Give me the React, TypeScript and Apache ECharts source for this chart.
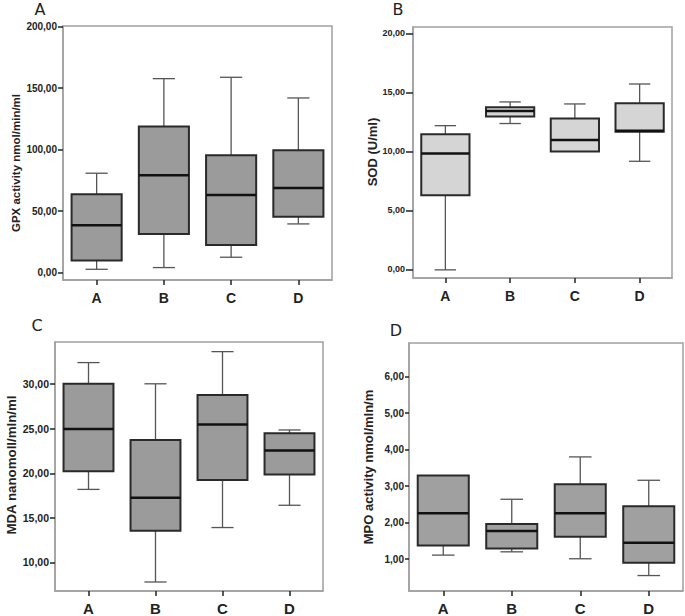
import React, { useEffect, useRef } from "react";
import * as echarts from "echarts";

const categories = ["A", "B", "C", "D"];

// [min, Q1, median, Q3, max] per group
const gpxData = [
  [2.7, 9.8, 38.5, 63.7, 80.8],
  [4.1, 31.4, 79.1, 118.7, 157.7],
  [12.5, 22.5, 63.1, 95.4, 158.8],
  [39.6, 45.5, 68.8, 99.5, 142],
];
const sodData = [
  [-0.05, 6.27, 9.8, 11.45, 12.17],
  [12.35, 12.95, 13.42, 13.73, 14.18],
  [9.97, 9.97, 10.96, 12.77, 14.01],
  [9.15, 11.65, 11.73, 14.07, 15.7],
];
const mdaData = [
  [18.19, 20.24, 24.97, 30.04, 32.42],
  [7.8, 13.54, 17.26, 23.74, 30.04],
  [13.91, 19.24, 25.46, 28.77, 33.65],
  [16.41, 19.87, 22.55, 24.49, 24.86],
];
const mpoData = [
  [1.11, 1.37, 2.26, 3.29, 3.29],
  [1.2, 1.29, 1.77, 1.96, 2.64],
  [1.01, 1.61, 2.26, 3.05, 3.8],
  [0.55, 0.9, 1.45, 2.45, 3.16],
];

const gpxTicks = [0, 50, 100, 150, 200];
const sodTicks = [0, 5, 10, 15, 20];
const mdaTicks = [10, 15, 20, 25, 30];
const mpoTicks = [1, 2, 3, 4, 5, 6];

const panelLetters = ["A", "B", "C", "D"];
const axisNames = [
  "GPX activity nmol/min/ml",
  "SOD (U/ml)",
  "MDA nanomoll/mln/ml",
  "MPO activity nmol/mln/m",
];

const FONT = "'Liberation Sans', Arial, sans-serif";

const fmt = (v: number) => v.toFixed(2).replace(".", ",");

const panels = [
  { grid: { left: 63, top: 26, width: 269, height: 254 }, min: -6, max: 200.5, ticks: gpxTicks, data: gpxData, fill: "#9b9b9b", tickLen: 5, labelSize: 10, xSize: 14, xMargin: 11, name: { x: 16, y: 163, size: 11.5 }, title: { x: 40, y: 9 } },
  { grid: { left: 413, top: 27, width: 259, height: 251 }, min: -0.74, max: 20.53, ticks: sodTicks, data: sodData, fill: "#d5d5d5", tickLen: 7, labelSize: 9, xSize: 14, xMargin: 11, name: { x: 372, y: 152, size: 13 }, title: { x: 398, y: 9 } },
  { grid: { left: 55, top: 342, width: 268, height: 250 }, min: 6.79, max: 34.73, ticks: mdaTicks, data: mdaData, fill: "#9b9b9b", tickLen: 5, labelSize: 10.5, xSize: 15, xMargin: 10, name: { x: 11, y: 465, size: 13.3 }, title: { x: 37, y: 325.5 } },
  { grid: { left: 409, top: 343, width: 274, height: 249 }, min: 0.127, max: 6.92, ticks: mpoTicks, data: mpoData, fill: "#a0a0a0", tickLen: 4, labelSize: 10, xSize: 15, xMargin: 10, name: { x: 368, y: 467, size: 13 }, title: { x: 396, y: 330.5 } },
];

function makeRenderItem(fill: string) {
  return (params: any, api: any) => {
    const x = api.value(0);
    const mn = api.value(1);
    const q1 = api.value(2);
    const md = api.value(3);
    const q3 = api.value(4);
    const mx = api.value(5);
    const band = api.size([1, 0])[0];
    const bw = band * 0.745;
    const cw = band * 0.33;
    const pMin = api.coord([x, mn]);
    const pQ1 = api.coord([x, q1]);
    const pMd = api.coord([x, md]);
    const pQ3 = api.coord([x, q3]);
    const pMx = api.coord([x, mx]);
    const cx = pMd[0];
    const whisker = { stroke: "#555", lineWidth: 1.3 };
    const children: any[] = [];
    if (mx > q3) {
      children.push({ type: "line", shape: { x1: cx, y1: pQ3[1], x2: cx, y2: pMx[1] }, style: whisker });
      children.push({ type: "line", shape: { x1: cx - cw / 2, y1: pMx[1], x2: cx + cw / 2, y2: pMx[1] }, style: whisker });
    }
    if (mn < q1) {
      children.push({ type: "line", shape: { x1: cx, y1: pQ1[1], x2: cx, y2: pMin[1] }, style: whisker });
      children.push({ type: "line", shape: { x1: cx - cw / 2, y1: pMin[1], x2: cx + cw / 2, y2: pMin[1] }, style: whisker });
    }
    children.push({
      type: "rect",
      shape: { x: cx - bw / 2, y: pQ3[1], width: bw, height: pQ1[1] - pQ3[1] },
      style: { fill, stroke: "#2a2a2a", lineWidth: 2 },
    });
    children.push({
      type: "line",
      shape: { x1: cx - bw / 2, y1: pMd[1], x2: cx + bw / 2, y2: pMd[1] },
      style: { stroke: "#111", lineWidth: 2.5 },
    });
    return { type: "group", children };
  };
}

export default function App() {
  const ref = useRef<HTMLDivElement>(null);
  useEffect(() => {
    if (!ref.current) return;
    const chart = echarts.init(ref.current, undefined, { renderer: "svg" });
    const grids = panels.map((p) => ({
      ...p.grid,
      show: true,
      borderColor: "#a0a0a0",
      borderWidth: 1.5,
      backgroundColor: "transparent",
    }));
    const xAxes = panels.map((p, i) => ({
      type: "category",
      gridIndex: i,
      data: categories,
      boundaryGap: true,
      axisLine: { show: true, onZero: false, lineStyle: { color: "#a0a0a0", width: 1.5 } },
      axisTick: { show: true, alignWithLabel: true, length: 5, lineStyle: { color: "#222", width: 1.5 } },
      axisLabel: { color: "#222", fontWeight: "bold", fontSize: p.xSize, fontFamily: FONT, margin: p.xMargin },
      splitLine: { show: false },
    }));
    const yAxes = panels.map((p, i) => ({
      type: "value",
      gridIndex: i,
      min: p.min,
      max: p.max,
      axisLine: { show: true, onZero: false, lineStyle: { color: "#a0a0a0", width: 1.5 } },
      axisTick: { show: true, length: p.tickLen, customValues: p.ticks, lineStyle: { color: "#222", width: 1.5 } },
      axisLabel: {
        customValues: p.ticks,
        formatter: (v: number) => fmt(v),
        color: "#222",
        fontWeight: "bold",
        fontSize: p.labelSize,
        fontFamily: FONT,
        margin: p.tickLen + 1,
      },
      splitLine: { show: false },
    }));
    const series = panels.map((p, i) => ({
      type: "custom",
      xAxisIndex: i,
      yAxisIndex: i,
      renderItem: makeRenderItem(p.fill),
      encode: { x: 0, y: [1, 2, 3, 4, 5] },
      data: p.data.map((d, k) => [k, ...d]),
      silent: true,
    }));
    const graphics: any[] = [];
    panels.forEach((p, i) => {
      graphics.push({
        type: "text",
        x: p.title.x,
        y: p.title.y,
        style: { text: panelLetters[i], fontSize: 16, fontFamily: "'DejaVu Sans', sans-serif", fill: "#222", align: "center", verticalAlign: "middle" },
      });
      graphics.push({
        type: "text",
        x: p.name.x,
        y: p.name.y,
        rotation: Math.PI / 2,
        style: { text: axisNames[i], fontSize: p.name.size, fontWeight: "bold", fontFamily: FONT, fill: "#222", align: "center", verticalAlign: "middle" },
      });
    });
    chart.setOption({
      animation: false,
      backgroundColor: "#ffffff",
      grid: grids,
      xAxis: xAxes,
      yAxis: yAxes,
      series,
      graphic: graphics,
    });
    return () => chart.dispose();
  }, []);
  return <div ref={ref} style={{ position: "absolute", left: 0, top: 0, width: 685, height: 616 }} />;
}
